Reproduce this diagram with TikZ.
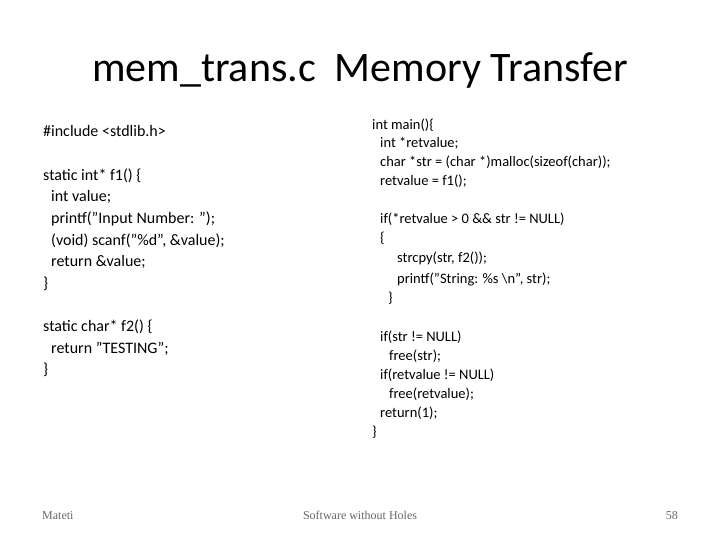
\documentclass[tikz,border=0pt]{standalone}
\usepackage{fontspec}
\setmainfont{Carlito}
\newfontfamily\footfont{Liberation Serif}
\tikzset{
  codeline/.style={anchor=base west,inner sep=0pt,font=\fontsize{16}{18}\selectfont},
  codeline2/.style={anchor=base west,inner sep=0pt,font=\fontsize{14.5}{17}\selectfont},
  foot/.style={anchor=base,inner sep=0pt,font=\footfont\fontsize{12}{14}\selectfont,text=black!60}
}
\begin{document}
\begin{tikzpicture}[x=1pt,y=-1pt]
\useasboundingbox (0,0) rectangle (720,540);
\node[anchor=base,inner sep=0pt,font=\fontsize{42}{48}\selectfont] (title) at (360,82) {mem\_trans.c\ \ Memory Transfer};
% left column
\foreach \y/\x/\n/\t in {137/43/la/{\#include <stdlib.h>},
  181/43/lb/{static int* f1() \{}, 202/51/lc/{int value;},
  223/51/ld/{printf("Input Number: ");}, 245/51/le/{(void) scanf("\%d", \&value);},
  266/51/lf/{return \&value;}, 288/43/lg/{\}},
  331/43/lh/{static char* f2() \{}, 353/51/li/{return "TESTING";}, 374/43/lj/{\}}}
  \node[codeline] (\n) at (\x,\y) {\t};
% right column
\foreach \y/\x/\n/\t in {130/372/ra/{int main()\{}, 148/380/rb/{int *retvalue;},
  167/380/rc/{char *str = (char *)malloc(sizeof(char));}, 186/380/rd/{retvalue = f1();},
  224/380/re/{if(*retvalue > 0 \&\& str != NULL)}, 243/380/rf/{\{},
  262/397/rg/{strcpy(str, f2());}, 283/397/rh/{printf("String: \%s \textbackslash n", str);},
  302/388/ri/{\}},
  341/380/rj/{if(str != NULL)}, 360/389/rk/{free(str);}, 379/380/rl/{if(retvalue != NULL)},
  398/389/rm/{free(retvalue);}, 417/380/rn/{return(1);}, 436/372/ro/{\}}}
  \node[codeline2] (\n) at (\x,\y) {\t};
% footer
\node[foot,anchor=base west] (author) at (42,519) {Mateti};
\node[foot] (course) at (360,519) {Software without Holes};
\node[foot,anchor=base east] (page) at (678,519) {58};
\end{tikzpicture}
\end{document}
